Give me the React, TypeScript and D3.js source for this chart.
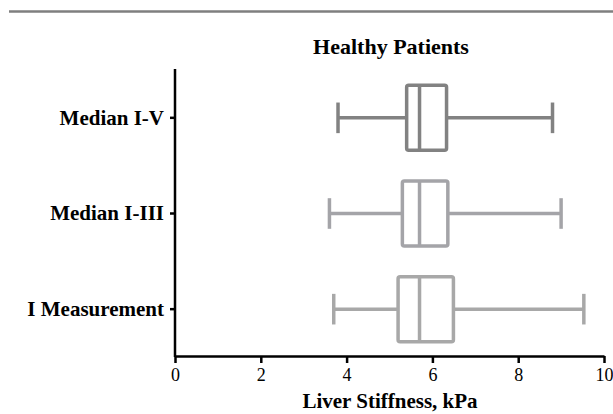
import React, { useEffect, useRef } from 'react';
import * as d3 from 'd3';

const categories = ['Median I-V', 'Median I-III', 'I Measurement'];
const lowWhisker = [3.8, 3.6, 3.7];
const q1 = [5.4, 5.3, 5.2];
const median = [5.7, 5.7, 5.7];
const q3 = [6.33, 6.36, 6.49];
const highWhisker = [8.8, 9.0, 9.53];
const boxColors = ['#828282', '#a4a4a8', '#a8a8a8'];
const xTicks = [0, 2, 4, 6, 8, 10];

const App = () => {
    const ref = useRef(null);

    useEffect(() => {
        const svg = d3.select(ref.current);
        svg.selectAll('*').remove();

        const x = d3.scaleLinear().domain([0, 10]).range([175, 604]);
        const y = d3.scaleBand().domain(categories).range([70, 357]);
        const boxH = y.bandwidth() * 0.68;
        const capH = y.bandwidth() * 0.32;
        const serif = '"Liberation Serif", "Times New Roman", serif';

        // top rule
        svg.append('line')
            .attr('x1', 9).attr('x2', 613)
            .attr('y1', 11.5).attr('y2', 11.5)
            .attr('stroke', '#7f7f7f')
            .attr('stroke-width', 2.5);

        svg.append('text')
            .attr('x', 391).attr('y', 54)
            .attr('text-anchor', 'middle')
            .attr('font-family', serif)
            .attr('font-weight', 'bold')
            .attr('font-size', 22)
            .text('Healthy Patients');

        const data = categories.map((c, i) => ({
            c, lo: lowWhisker[i], q1: q1[i], med: median[i], q3: q3[i], hi: highWhisker[i], color: boxColors[i]
        }));

        const g = svg.append('g').selectAll('g')
            .data(data)
            .enter().append('g')
            .attr('stroke', d => d.color)
            .attr('stroke-width', 3.5)
            .attr('fill', 'none')
            .attr('stroke-linejoin', 'round');

        const cy = d => y(d.c) + y.bandwidth() / 2;

        g.append('line')
            .attr('x1', d => x(d.lo)).attr('x2', d => x(d.q1))
            .attr('y1', cy).attr('y2', cy);
        g.append('line')
            .attr('x1', d => x(d.q3)).attr('x2', d => x(d.hi))
            .attr('y1', cy).attr('y2', cy);
        g.append('line')
            .attr('x1', d => x(d.lo)).attr('x2', d => x(d.lo))
            .attr('y1', d => cy(d) - capH / 2).attr('y2', d => cy(d) + capH / 2);
        g.append('line')
            .attr('x1', d => x(d.hi)).attr('x2', d => x(d.hi))
            .attr('y1', d => cy(d) - capH / 2).attr('y2', d => cy(d) + capH / 2);
        g.append('rect')
            .attr('x', d => x(d.q1))
            .attr('width', d => x(d.q3) - x(d.q1))
            .attr('y', d => cy(d) - boxH / 2)
            .attr('height', boxH)
            .attr('rx', 2);
        g.append('line')
            .attr('x1', d => x(d.med)).attr('x2', d => x(d.med))
            .attr('y1', d => cy(d) - boxH / 2).attr('y2', d => cy(d) + boxH / 2);

        // x axis
        const xAxis = svg.append('g')
            .attr('transform', 'translate(0,356)')
            .call(d3.axisBottom(x).tickValues(xTicks).tickSize(7).tickSizeOuter(0).tickFormat(d3.format('d')));
        xAxis.select('.domain').attr('stroke', '#000').attr('stroke-width', 2.5);
        xAxis.selectAll('.tick line').attr('stroke', '#000').attr('stroke-width', 2.5);
        xAxis.selectAll('.tick text')
            .attr('font-family', serif)
            .attr('font-size', 18)
            .attr('fill', '#000')
            .attr('dy', '0.95em')
            .attr('y', 8);

        // y axis
        const yAxis = svg.append('g')
            .attr('transform', 'translate(175,0)')
            .call(d3.axisLeft(y).tickSize(5).tickSizeOuter(0).tickPadding(6));
        yAxis.select('.domain').attr('d', 'M0,69V357').attr('stroke', '#000').attr('stroke-width', 2.5);
        yAxis.selectAll('.tick line').attr('stroke', '#000').attr('stroke-width', 2.5);
        yAxis.selectAll('.tick text')
            .attr('font-family', serif)
            .attr('font-weight', 'bold')
            .attr('font-size', 21)
            .attr('fill', '#000');

        svg.append('text')
            .attr('x', 390).attr('y', 408)
            .attr('text-anchor', 'middle')
            .attr('font-family', serif)
            .attr('font-weight', 'bold')
            .attr('font-size', 21)
            .text('Liver Stiffness, kPa');
    }, []);

    return (
        <svg
            ref={ref}
            width={613}
            height={414}
            style={{ position: 'absolute', left: 0, top: 0, background: '#fff' }}
        />
    );
};

export default App;
